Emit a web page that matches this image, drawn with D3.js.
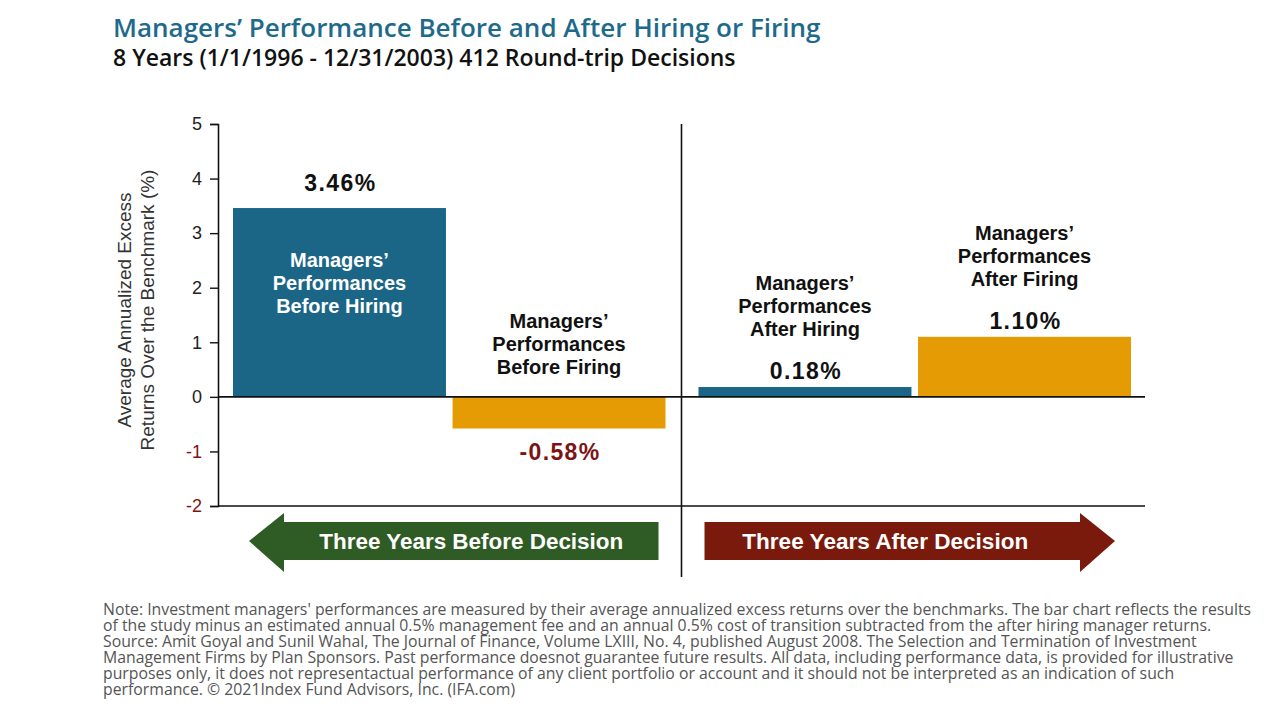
<!DOCTYPE html>
<html>
<head>
<meta charset="utf-8">
<script src="https://cdn.jsdelivr.net/npm/d3@7"></script>
<style>
  body { margin: 0; background: #ffffff; }
  svg { display: block; }
</style>
</head>
<body>
<svg id="chart" width="1280" height="720"></svg>
<script>
// Chart data
const periods = ["Three Years Before Decision", "Three Years After Decision"];
const decisions = ["Hiring", "Firing"];
const barLabels = [
    ["Managers’", "Performances", "Before Hiring"],
    ["Managers’", "Performances", "Before Firing"],
    ["Managers’", "Performances", "After Hiring"],
    ["Managers’", "Performances", "After Firing"]
];
const excessReturns = [3.46, -0.58, 0.18, 1.10];
const yTicks = [-2, -1, 0, 1, 2, 3, 4, 5];
const titleText = "Managers’ Performance Before and After Hiring or Firing";
const subtitleText = "8 Years (1/1/1996 - 12/31/2003) 412 Round-trip Decisions";
const yTitleLines = ["Average Annualized Excess", "Returns Over the Benchmark (%)"];
const noteLines = [
    "Note: Investment managers' performances are measured by their average annualized excess returns over the benchmarks. The bar chart reflects the results",
    "of the study minus an estimated annual 0.5% management fee and an annual 0.5% cost of transition subtracted from the after hiring manager returns.",
    "Source: Amit Goyal and Sunil Wahal, The Journal of Finance, Volume LXIII, No. 4, published August 2008. The Selection and Termination of Investment",
    "Management Firms by Plan Sponsors. Past performance doesnot guarantee future results. All data, including performance data, is provided for illustrative",
    "purposes only, it does not representactual performance of any client portfolio or account and it should not be interpreted as an indication of such",
    "performance. © 2021Index Fund Advisors, Inc. (IFA.com)"
];

const colors = { Hiring: "#1b6587", Firing: "#e59b04" };
const arrowColors = ["#2f5b24", "#7a1a0c"];
const negColor = "#7d1313";
const sansBold = "'Liberation Sans', Arial, sans-serif";
const openSans = "'Open Sans', 'Noto Sans', sans-serif";

const rows = excessReturns.map((v, i) => ({
    period: periods[Math.floor(i / 2)],
    decision: decisions[i % 2],
    value: v,
    lines: barLabels[i],
    idx: i
}));

const svg = d3.select("#chart");

// Titles
svg.append("text")
    .attr("x", 113).attr("y", 37)
    .attr("font-family", openSans).attr("font-size", 26).attr("font-weight", 600)
    .attr("fill", "#1e6a8c")
    .text(titleText);

svg.append("text")
    .attr("x", 113).attr("y", 66)
    .attr("font-family", openSans).attr("font-size", 23).attr("font-weight", 600)
    .attr("fill", "#111")
    .text(subtitleText);

// Scales
const y = d3.scaleLinear().domain([-2, 5]).range([506, 124]);
const xGroup = d3.scaleBand().domain(periods).range([218, 1145]);
const xBar = d3.scaleBand().domain(decisions)
    .range([15, xGroup.bandwidth() - 16])
    .paddingInner(0.03);

const xLeft = xGroup.range()[0];
const xRight = xGroup.range()[1];
// the "after" pair sits a little to the right of its band
const groupShift = p => p === periods[0] ? 0 : 2;
const barX = d => xGroup(d.period) + xBar(d.decision) + groupShift(d.period);

// Bars
svg.selectAll(".bar")
    .data(rows)
    .enter()
    .append("rect")
    .attr("class", "bar")
    .attr("x", barX)
    .attr("y", d => y(Math.max(0, d.value)))
    .attr("width", xBar.bandwidth())
    .attr("height", d => Math.abs(y(d.value) - y(0)))
    .attr("fill", d => colors[d.decision]);

// Y axis
const yAxis = svg.append("g")
    .attr("class", "y-axis")
    .attr("transform", `translate(${xLeft}, 0)`)
    .call(d3.axisLeft(y).tickValues(yTicks).tickSize(8).tickPadding(8).tickFormat(d => String(d)));
yAxis.select(".domain").attr("stroke", "#111").attr("stroke-width", 1.6);
yAxis.selectAll(".tick line").attr("stroke", "#111").attr("stroke-width", 1.4);
yAxis.selectAll(".tick text")
    .attr("font-family", sansBold)
    .attr("font-size", 18)
    .attr("fill", d => d < 0 ? negColor : "#222");

// Zero line and bottom line
svg.append("line")
    .attr("x1", xLeft).attr("x2", xRight)
    .attr("y1", y(0)).attr("y2", y(0))
    .attr("stroke", "#111").attr("stroke-width", 1.6);
svg.append("line")
    .attr("x1", xLeft).attr("x2", xRight)
    .attr("y1", y(-2)).attr("y2", y(-2))
    .attr("stroke", "#111").attr("stroke-width", 1.6);

// Divider between periods
svg.append("line")
    .attr("x1", xGroup(periods[1])).attr("x2", xGroup(periods[1]))
    .attr("y1", y(5)).attr("y2", 577)
    .attr("stroke", "#111").attr("stroke-width", 1.6);

// Y axis title
const yTitle = svg.append("text")
    .attr("transform", "rotate(-90)")
    .attr("font-family", sansBold)
    .attr("font-size", 19)
    .attr("fill", "#333")
    .attr("text-anchor", "middle");
yTitle.selectAll("tspan")
    .data(yTitleLines)
    .enter()
    .append("tspan")
    .attr("x", -310)
    .attr("y", (d, i) => 131 + i * 23)
    .text(d => d);

// Value labels and category labels
const barCenter = d => barX(d) + xBar.bandwidth() / 2;
const fmt = v => v.toFixed(2) + "%";

function valueBaseline(d) {
    if (d.value < 0) return y(d.value) + 31;
    if (d.idx === 0) return y(d.value) - 17;
    return y(d.value) - 8;
}

svg.selectAll(".value-label")
    .data(rows)
    .enter()
    .append("text")
    .attr("class", "value-label")
    .attr("x", d => barCenter(d) + 1)
    .attr("y", valueBaseline)
    .attr("text-anchor", "middle")
    .attr("font-family", sansBold)
    .attr("font-weight", "bold")
    .attr("font-size", 23)
    .attr("letter-spacing", 1.4)
    .attr("fill", d => d.value < 0 ? negColor : "#111")
    .text(d => fmt(d.value));

function labelFirstBaseline(d) {
    if (d.idx === 0) return y(d.value) + 59;       // inside the tall bar
    if (d.value < 0) return y(0) - 23 * 3;         // above zero line
    return valueBaseline(d) - 43 - 23 * 2;          // above value label
}

const catLabels = svg.selectAll(".cat-label")
    .data(rows)
    .enter()
    .append("text")
    .attr("class", "cat-label")
    .attr("text-anchor", "middle")
    .attr("font-family", sansBold)
    .attr("font-weight", "bold")
    .attr("font-size", 20)
    .attr("fill", d => d.idx === 0 ? "#ffffff" : "#111");

catLabels.selectAll("tspan")
    .data(d => d.lines.map((l, j) => ({ text: l, j: j, parent: d })))
    .enter()
    .append("tspan")
    .attr("x", t => barCenter(t.parent))
    .attr("y", t => labelFirstBaseline(t.parent) + t.j * 23)
    .text(t => t.text);

// Period arrows
const arrowTop = 522, arrowBottom = 560, headTop = 513, headBottom = 572, headLen = 35;
const arrowMid = (arrowTop + arrowBottom) / 2;

periods.forEach((p, i) => {
    const g0 = xGroup(p), g1 = g0 + xGroup.bandwidth();
    let pts, bodyL, bodyR;
    if (i === 0) {
        const tip = g0 + 31;
        bodyL = tip + headLen; bodyR = g1 - 23;
        pts = [[tip, arrowMid], [bodyL, headTop], [bodyL, arrowTop], [bodyR, arrowTop],
               [bodyR, arrowBottom], [bodyL, arrowBottom], [bodyL, headBottom]];
    } else {
        const tip = g1 - 30;
        bodyL = g0 + 23; bodyR = tip - headLen;
        pts = [[bodyL, arrowTop], [bodyR, arrowTop], [bodyR, headTop], [tip, arrowMid],
               [bodyR, headBottom], [bodyR, arrowBottom], [bodyL, arrowBottom]];
    }
    svg.append("path")
        .attr("d", d3.line()(pts) + "Z")
        .attr("fill", arrowColors[i]);
    svg.append("text")
        .attr("x", (bodyL + bodyR) / 2 + (i === 0 ? 0 : -7))
        .attr("y", arrowMid + 8)
        .attr("text-anchor", "middle")
        .attr("font-family", sansBold)
        .attr("font-weight", "bold")
        .attr("font-size", 22)
        .attr("textLength", i === 0 ? 304 : 286)
        .attr("lengthAdjust", "spacingAndGlyphs")
        .attr("fill", "#ffffff")
        .text(p);
});

// Footnote
const note = svg.append("text")
    .attr("font-family", openSans)
    .attr("font-size", 15.8)
    .attr("fill", "#555");
note.selectAll("tspan")
    .data(noteLines)
    .enter()
    .append("tspan")
    .attr("x", 103)
    .attr("y", (d, i) => 615 + i * 16)
    .text(d => d);
</script>
</body>
</html>
